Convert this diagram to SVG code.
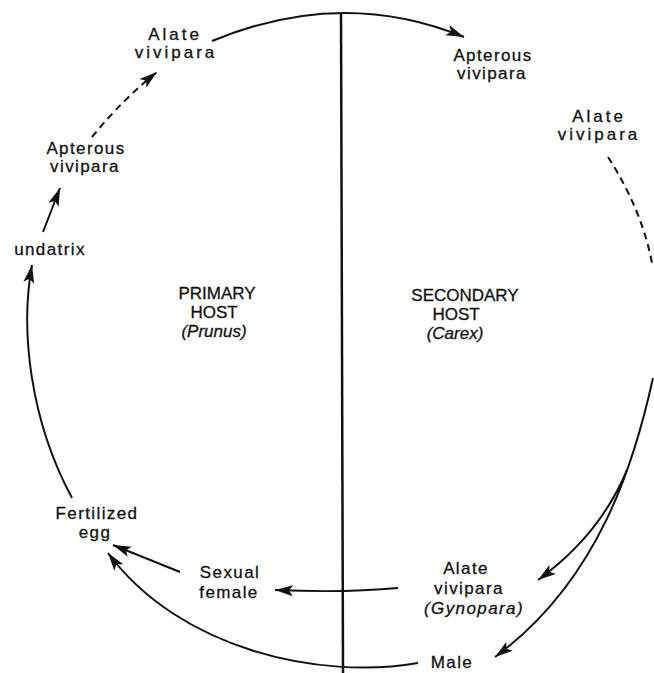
<svg xmlns="http://www.w3.org/2000/svg" width="654" height="673" viewBox="0 0 654 673">
<style>
  text { font-family: "Liberation Sans", Arial, sans-serif; font-size: 17px; fill: #111; stroke: #111; stroke-width: 0.3; text-anchor: middle; }
  .w { letter-spacing: 3px; }
  .n { letter-spacing: 1.4px; }
  .i { font-style: italic; }
  .c { fill: none; stroke: #111; stroke-width: 2; }
  .d { stroke-dasharray: 7 5; }
</style>
<defs>
  <marker id="ah" markerUnits="userSpaceOnUse" markerWidth="20" markerHeight="12" refX="18" refY="6" orient="auto">
    <path d="M0,0.5 L18,6 L0,11.5 L4,6 z" fill="#111"/>
  </marker>
</defs>
<rect width="654" height="673" fill="#fff"/>

<g id="connectors">
  <line x1="341" y1="13" x2="343" y2="673" stroke="#111" stroke-width="2.5"/>
  <path class="c" d="M212,41 Q342,-13 464,37" marker-end="url(#ah)"/>
  <path class="c d" d="M608,157 Q642,210 652,263"/>
  <path class="c" d="M653,378 C635,460 600,580 495,657" marker-end="url(#ah)"/>
  <path class="c" d="M627,470 Q600,535 538,580" marker-end="url(#ah)"/>
  <path class="c" d="M418,663 C320,680 180,650 108,553" marker-end="url(#ah)"/>
  <path class="c" d="M398,588 Q345,593 275,590" marker-end="url(#ah)"/>
  <path class="c" d="M180,572 L113,545" marker-end="url(#ah)"/>
  <path class="c" d="M72,498 C30,420 20,330 32,265" marker-end="url(#ah)"/>
  <path class="c" d="M43,232 L60,188" marker-end="url(#ah)"/>
  <path class="c d" d="M92,137 Q122,100 157,72" marker-end="url(#ah)"/>
</g>

<g id="alate-primary">
  <text class="w" x="175" y="40">Alate</text>
  <text class="w" x="176" y="58">vivipara</text>
</g>
<g id="apterous-secondary">
  <text class="n" x="493" y="61">Apterous</text>
  <text class="n" x="492" y="79">vivipara</text>
</g>
<g id="alate-secondary">
  <text class="w" x="599" y="122">Alate</text>
  <text class="w" x="599" y="140">vivipara</text>
</g>
<g id="apterous-primary">
  <text class="n" x="86" y="154">Apterous</text>
  <text class="n" x="85" y="172">vivipara</text>
</g>
<g id="undatrix">
  <text class="n" x="50" y="255">undatrix</text>
</g>
<g id="primary-host">
  <text x="217" y="299">PRIMARY</text>
  <text x="214" y="318">HOST</text>
  <text class="i" x="214" y="337">(Prunus)</text>
</g>
<g id="secondary-host">
  <text x="465" y="301">SECONDARY</text>
  <text x="456" y="320">HOST</text>
  <text class="i" x="455" y="339">(Carex)</text>
</g>
<g id="fertilized-egg">
  <text class="n" x="97" y="519">Fertilized</text>
  <text class="n" x="95" y="538">egg</text>
</g>
<g id="sexual-female">
  <text class="n" x="230" y="578">Sexual</text>
  <text class="n" x="229" y="598">female</text>
</g>
<g id="gynopara">
  <text class="n" x="466" y="574">Alate</text>
  <text class="n" x="469" y="594">vivipara</text>
  <text class="i n" x="474" y="614">(Gynopara)</text>
</g>
<g id="male">
  <text class="n" x="452" y="668">Male</text>
</g>
</svg>
